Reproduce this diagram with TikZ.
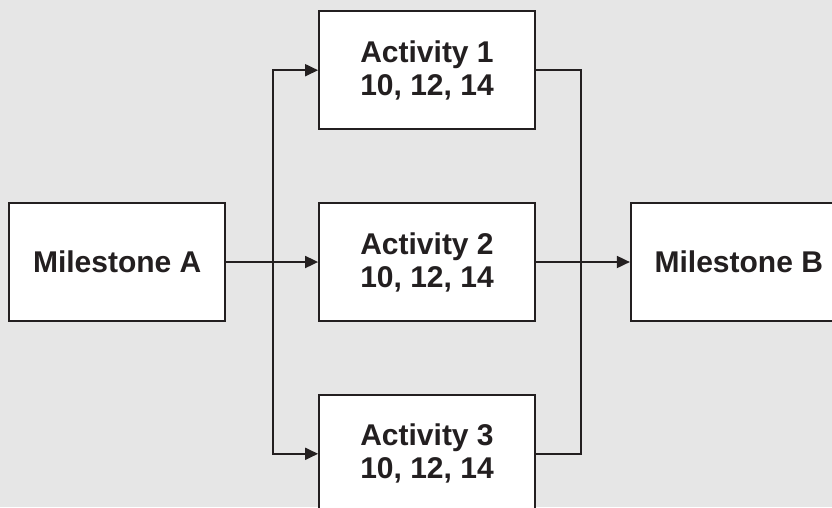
\documentclass[tikz,border=0pt]{standalone}
\usepackage{fontspec}
\setmainfont{Liberation Sans}
\usetikzlibrary{arrows.meta, positioning}
\definecolor{pertbg}{HTML}{E6E6E6}
\definecolor{pertink}{HTML}{231F20}
\tikzset{
  box/.style={rectangle, draw=pertink, fill=white, line width=1.8pt, minimum width=216pt,
    minimum height=118pt, inner sep=0pt, font=\fontsize{30}{33}\selectfont\bfseries,
    text=pertink, align=center},
  link/.style={line width=1.8pt, pertink},
  arr/.style={-{Triangle[length=13pt, width=12pt]}, line width=1.8pt, pertink},
}
\begin{document}
\begin{tikzpicture}[x=1pt, y=1pt, node distance=72pt and 94pt]
  \fill[pertbg] (0,0) rectangle (832,-507);
  \useasboundingbox (0,0) rectangle (832,-507);
  \clip (0,0) rectangle (832,-507);
  \node[box] (act2) at (427,-262) {Activity 2\\10, 12, 14};
  \node[box, above=of act2] (act1) {Activity 1\\10, 12, 14};
  \node[box, below=of act2] (act3) {Activity 3\\10, 12, 14};
  \node[box, left=92pt of act2] (msA) {Milestone A};
  \node[box, right=of act2] (msB) {Milestone B};
  % branch and join points
  \coordinate (split) at (273,-262);
  \coordinate (join) at (581,-262);
  \draw[arr] (msA) -- (act2);
  \draw[arr] (split) |- (act1);
  \draw[arr] (split) |- (act3);
  \draw[link] (act1.east) -| (join);
  \draw[link] (act3.east) -| (join);
  \draw[arr] (act2) -- (msB);
\end{tikzpicture}
\end{document}
